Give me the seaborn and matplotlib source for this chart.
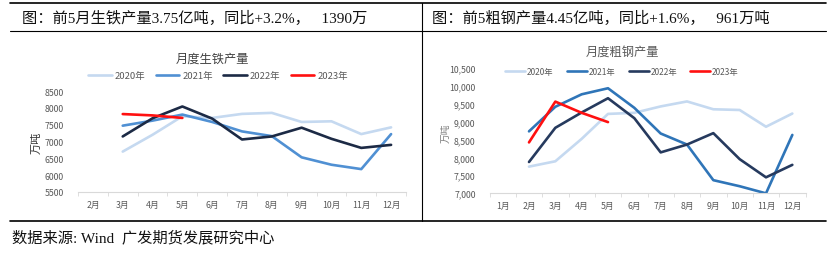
import matplotlib
matplotlib.use("Agg")
import matplotlib.pyplot as plt
import seaborn as sns
import pandas as pd
import numpy as np
from matplotlib.lines import Line2D
from matplotlib.ticker import FuncFormatter, FixedLocator

sns.set_theme(style="white")
plt.rcParams['font.family'] = ['Noto Sans CJK SC', 'DejaVu Sans']

# ---------------- data ----------------
years = ["2020年", "2021年", "2022年", "2023年"]

iron_months = [2, 3, 4, 5, 6, 7, 8, 9, 10, 11, 12]
iron_2020 = [np.nan, 6700, 7200, 7750, 7700, 7820, 7850, 7580, 7600, 7220, 7420]
iron_2021 = [np.nan, 7470, 7620, 7800, 7580, 7300, 7160, 6530, 6310, 6180, 7220]
iron_2022 = [np.nan, 7150, 7690, 8040, 7680, 7060, 7150, 7410, 7080, 6810, 6900]
iron_2023 = [np.nan, 7815, 7775, 7700, np.nan, np.nan, np.nan, np.nan, np.nan, np.nan, np.nan]

steel_months = [1, 2, 3, 4, 5, 6, 7, 8, 9, 10, 11, 12]
steel_2020 = [np.nan, 7740, 7890, 8520, 9220, 9250, 9430, 9570, 9350, 9330, 8860, 9230]
steel_2021 = [np.nan, 8730, 9420, 9770, 9940, 9390, 8670, 8360, 7360, 7190, 6990, 8630]
steel_2022 = [np.nan, 7870, 8830, 9260, 9660, 9100, 8140, 8360, 8680, 7950, 7440, 7790]
steel_2023 = [np.nan, 8420, 9565, 9250, 8990, np.nan, np.nan, np.nan, np.nan, np.nan, np.nan, np.nan]

iron_ticks = [5500, 6000, 6500, 7000, 7500, 8000, 8500]
steel_ticks = [7000, 7500, 8000, 8500, 9000, 9500, 10000, 10500]

header_left = "图：前5月生铁产量3.75亿吨，同比+3.2%，   1390万"
header_right = "图：前5粗钢产量4.45亿吨，同比+1.6%，   961万吨"
source_text = "数据来源: Wind  广发期货发展研究中心"
title_left = "月度生铁产量"
title_right = "月度粗钢产量"
unit = "万吨"


def long_df(months, series):
    rows = []
    for yr, vals in zip(years, series):
        for m, v in zip(months, vals):
            if not np.isnan(v):
                rows.append({"month": m, "value": v, "year": yr})
    return pd.DataFrame(rows)


df_iron = long_df(iron_months, [iron_2020, iron_2021, iron_2022, iron_2023])
df_steel = long_df(steel_months, [steel_2020, steel_2021, steel_2022, steel_2023])

pal_left = {"2020年": "#c5d9f0", "2021年": "#5090d3", "2022年": "#1c2a45", "2023年": "#ff1010"}
pal_right = {"2020年": "#c5d9f0", "2021年": "#2f75b8", "2022年": "#263a5e", "2023年": "#ff1010"}

W, H = 831, 255
fig = plt.figure(figsize=(W / 100, H / 100), dpi=100)
fig.patch.set_facecolor("white")


def fx(x):
    return x / W


def fy(y):
    return 1 - y / H


# frame lines
line_kw = dict(color="black", linewidth=1.2, transform=fig.transFigure)
fig.add_artist(Line2D([fx(10), fx(826)], [fy(4), fy(4)], **line_kw))
fig.add_artist(Line2D([fx(10), fx(826)], [fy(32), fy(32)], linewidth=0.8, color="black", transform=fig.transFigure))
fig.add_artist(Line2D([fx(10), fx(826)], [fy(222), fy(222)], **line_kw))
fig.add_artist(Line2D([fx(421.5), fx(421.5)], [fy(4), fy(222)], linewidth=0.8, color="black", transform=fig.transFigure))

hfam = ['Liberation Serif', 'Noto Sans CJK SC']
fig.text(fx(22), fy(18), header_left, fontsize=11, family=hfam, va="center", ha="left", color="#111111")
fig.text(fx(432), fy(18), header_right, fontsize=11, family=hfam, va="center", ha="left", color="#111111")
fig.text(fx(12), fy(238), source_text, fontsize=11, family=hfam, va="center", ha="left", color="#111111")

gray = "#595959"


def setup(ax, months, ticks, fmt, pal, df, ylab_color, ylab_x, ylab_y, ylab_size):
    sns.lineplot(data=df, x="month", y="value", hue="year", hue_order=years,
                 palette=pal, linewidth=1.9, ax=ax, legend=False, sort=False)
    ax.set_xlim(months[0] - 0.5, months[-1] + 0.5)
    ax.set_ylim(ticks[0], ticks[-1])
    ax.set_xticks(months)
    ax.set_xticklabels([f"{m}月" for m in months])
    ax.xaxis.set_minor_locator(FixedLocator([m - 0.5 for m in months] + [months[-1] + 0.5]))
    ax.set_yticks(ticks)
    ax.yaxis.set_major_formatter(FuncFormatter(fmt))
    ax.tick_params(axis="x", which="major", length=0, pad=6, labelsize=6.3, labelcolor=gray)
    ax.tick_params(axis="x", which="minor", length=3, width=0.6, color="#d9d9d9", bottom=True)
    ax.tick_params(axis="y", length=0, pad=10, labelsize=6.3, labelcolor=gray)
    for s in ["top", "right", "left"]:
        ax.spines[s].set_visible(False)
    ax.spines["bottom"].set_color("#d9d9d9")
    ax.spines["bottom"].set_linewidth(0.8)
    ax.set_xlabel("")
    ax.set_ylabel("")
    ax.set_facecolor("white")
    ax.grid(False)
    fig.text(fx(ylab_x), fy(ylab_y), unit, rotation=90, fontsize=ylab_size,
             color=ylab_color, ha="center", va="center")


# left chart
axL = fig.add_axes([fx(78), fy(193), fx(406 - 78), (193 - 92) / H])
setup(axL, iron_months, iron_ticks, lambda v, p: f"{int(v)}", pal_left, df_iron,
      "#333333", 37, 143, 8)
fig.text(fx(212), fy(59), title_left, fontsize=8.8, color="#404040", ha="center", va="center")
handlesL = [Line2D([0], [0], color=pal_left[y], linewidth=1.9) for y in years]
fig.legend(handlesL, years, loc="center", bbox_to_anchor=(fx(218), fy(77)), ncol=4,
           frameon=False, fontsize=6.8, labelcolor=gray, handlelength=2.5,
           columnspacing=1.1, handletextpad=0.3)

# right chart
axR = fig.add_axes([fx(489.5), fy(194), fx(805.5 - 489.5), (194 - 69.3) / H])
setup(axR, steel_months, steel_ticks, lambda v, p: f"{int(v):,}", pal_right, df_steel,
      "#7f7f7f", 446, 133, 7)
fig.text(fx(622), fy(52), title_right, fontsize=8.8, color="#595959", ha="center", va="center")
handlesR = [Line2D([0], [0], color=pal_right[y], linewidth=1.9) for y in years]
fig.legend(handlesR, years, loc="center", bbox_to_anchor=(fx(622), fy(72)), ncol=4,
           frameon=False, fontsize=6.0, labelcolor=gray, handlelength=2.4,
           columnspacing=1.6, handletextpad=0.2)

fig.savefig("out.png", dpi=100)
